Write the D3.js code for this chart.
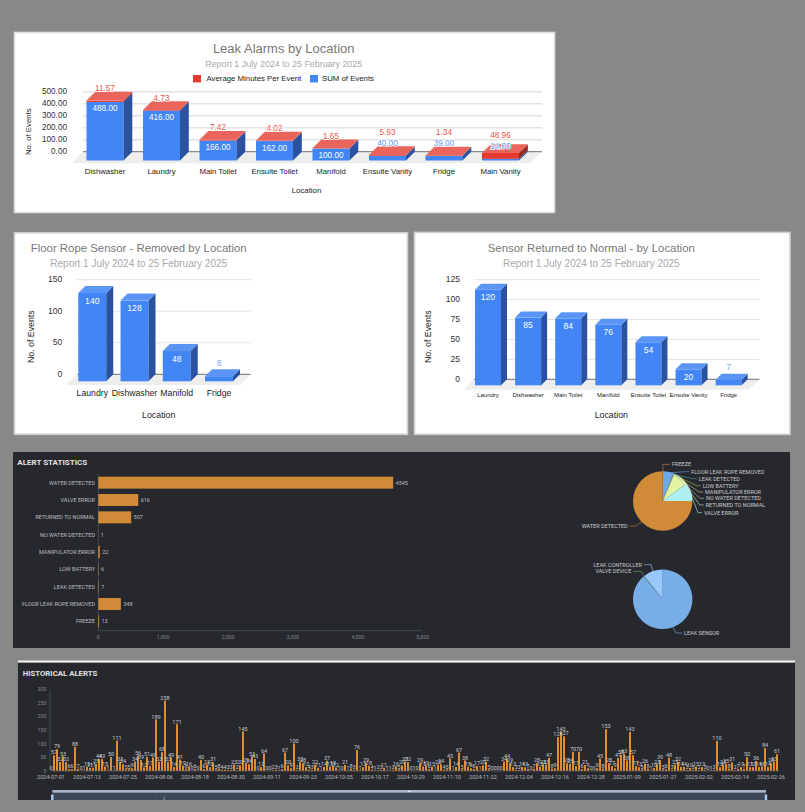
<!DOCTYPE html>
<html>
<head>
<meta charset="utf-8">
<script src="https://cdn.jsdelivr.net/npm/d3@7/dist/d3.min.js"></script>
<style>
  html, body { margin: 0; padding: 0; background: #888888; }
  svg { display: block; }
</style>
</head>
<body>
<svg id="board" width="805" height="812"></svg>
<script>
// ---- Leak alarms (stacked columns) ----
const leakLocations = ["Dishwasher", "Laundry", "Main Toilet", "Ensuite Toilet", "Manifold", "Ensuite Vanity", "Fridge", "Main Vanity"];
const leakEvents = [488, 416, 166, 162, 100, 40, 39, 14];
const leakMinutes = [11.57, 4.73, 7.42, 4.02, 1.65, 5.93, 1.34, 48.96];
const leakTicks = [0, 100, 200, 300, 400, 500];

// ---- Floor rope sensor removals ----
const ropeLocations = ["Laundry", "Dishwasher", "Manifold", "Fridge"];
const ropeEvents = [140, 128, 48, 8];
const ropeTicks = [0, 50, 100, 150];

// ---- Sensor returned to normal ----
const normalLocations = ["Laundry", "Dishwasher", "Main Toilet", "Manifold", "Ensuite Toilet", "Ensuite Vanity", "Fridge"];
const normalEvents = [120, 85, 84, 76, 54, 20, 7];
const normalTicks = [0, 25, 50, 75, 100, 125];

// ---- Alert statistics ----
const alertTypes = ["WATER DETECTED", "VALVE ERROR", "RETURNED TO NORMAL", "NO WATER DETECTED", "MANIPULATOR ERROR", "LOW BATTERY", "LEAK DETECTED", "FLOOR LEAK ROPE REMOVED", "FREEZE"];
const alertCounts = [4545, 616, 507, 1, 22, 6, 7, 348, 13];
const alertTicks = [0, 1000, 2000, 3000, 4000, 5000];
const deviceTypes = ["LEAK SENSOR", "VALVE DEVICE", "LEAK CONTROLLER"];
const deviceCounts = [5390, 30, 645];

// ---- Historical alerts, one value per day from 2024-07-01 ----
const dailyAlerts = [
  0, 57, 79, 32, 53, 32, 6, 6, 88, 7,
  0, 1, 15, 11, 11, 25, 44, 43, 15, 1,
  50, 1, 111, 33, 24, 5, 5, 9, 34, 56,
  39, 12, 51, 17, 49, 189, 33, 68, 258, 33,
  49, 14, 171, 41, 19, 8, 16, 0, 6, 0,
  40, 6, 23, 13, 31, 5, 8, 4, 4, 3,
  3, 23, 2, 20, 145, 29, 24, 53, 43, 0,
  13, 64, 0, 0, 2, 3, 1, 6, 67, 20,
  9, 100, 2, 33, 28, 13, 4, 3, 22, 11,
  1, 14, 37, 15, 18, 12, 1, 0, 21, 1,
  8, 3, 76, 1, 13, 29, 18, 4, 1, 2,
  3, 11, 1, 1, 3, 16, 5, 20, 33, 32,
  0, 1, 0, 29, 15, 19, 6, 15, 1, 23,
  24, 4, 5, 45, 1, 14, 67, 5, 38, 15,
  9, 6, 17, 1, 20, 32, 5, 0, 0, 0,
  0, 34, 44, 29, 13, 3, 3, 14, 13, 7,
  0, 7, 28, 15, 23, 23, 47, 8, 9, 124,
  143, 127, 28, 25, 70, 17, 70, 6, 21, 9,
  0, 0, 9, 45, 8, 153, 28, 17, 9, 47,
  58, 63, 38, 143, 57, 17, 13, 5, 26, 8,
  1, 10, 23, 39, 5, 6, 48, 3, 23, 32,
  14, 14, 3, 10, 3, 15, 2, 13, 3, 0,
  1, 3, 110, 13, 23, 25, 8, 31, 2, 7,
  13, 7, 50, 13, 13, 36, 14, 16, 84, 14,
  28, 33, 61
];
const dailyTicks = [0, 50, 100, 150, 200, 250, 300];
const dailyLabels = ["2024-07-01", "2024-07-13", "2024-07-25", "2024-08-06", "2024-08-18", "2024-08-30", "2024-09-11", "2024-09-23", "2024-10-05", "2024-10-17", "2024-10-29", "2024-11-10", "2024-11-22", "2024-12-04", "2024-12-16", "2024-12-28", "2025-01-09", "2025-01-21", "2025-02-02", "2025-02-14", "2025-02-26"];

const REPORT = "Report 1 July 2024 to 25 February 2025";
const SANS = "'Liberation Sans', Arial, sans-serif";
const ROBOTO = "Roboto, sans-serif";
const BLUE = { front: "#4285f4", side: "#2a52a0", top: "#5a95f6" };
const RED = { front: "#e53a30", side: "#9c2a1f", top: "#e9655c" };

const svg = d3.select("#board");

function label(parent, x, y, str, o = {}) {
  const t = parent.append("text")
    .attr("x", x).attr("y", y)
    .attr("dominant-baseline", "central")
    .attr("text-anchor", o.anchor || "middle")
    .attr("font-family", o.family || SANS)
    .attr("font-size", o.size || 8)
    .attr("font-weight", o.weight || 400)
    .attr("fill", o.fill || "#222")
    .text(str);
  if (o.halo) t.attr("stroke", "#fff").attr("stroke-width", 1.4).attr("paint-order", "stroke");
  if (o.rotate) t.attr("transform", `rotate(${o.rotate} ${x} ${y})`);
  return t;
}

function poly(parent, pts, fill) {
  return parent.append("polygon").attr("points", pts.map(p => p.join(",")).join(" ")).attr("fill", fill);
}

// One extruded box between two values on the column's own scale.
function box(parent, x, w, yBottom, yTop, depth, colours, withTop) {
  parent.append("rect").attr("x", x).attr("y", yTop).attr("width", w).attr("height", Math.max(0, yBottom - yTop)).attr("fill", colours.front);
  poly(parent, [[x + w, yTop], [x + w + depth, yTop - depth], [x + w + depth, yBottom - depth], [x + w, yBottom]], colours.side);
  if (withTop) poly(parent, [[x, yTop], [x + depth, yTop - depth], [x + w + depth, yTop - depth], [x + w, yTop]], colours.top);
}

// Background plane shared by the three column charts: grid, floor, zero line, axis text.
function plane(g, c) {
  const y = d3.scaleLinear().domain(c.domain).range([c.y0, c.yTop]);
  g.append("g").selectAll("line").data(c.ticks.filter(t => t > 0)).join("line")
    .attr("x1", c.backX[0]).attr("x2", c.backX[1])
    .attr("y1", y).attr("y2", y)
    .attr("stroke", "#e3e3e3").attr("stroke-width", c.gridWidth);
  poly(g, [[c.backX[0], c.y0], [c.backX[1], c.y0], [c.backX[1] - c.floor, c.y0 + c.floor], [c.backX[0] - c.floor, c.y0 + c.floor]], "#eeeeee");
  g.append("line").attr("x1", c.backX[0]).attr("x2", c.backX[1]).attr("y1", c.y0).attr("y2", c.y0).attr("stroke", "#6f6f6f").attr("stroke-width", 1);
  c.ticks.forEach(t => label(g, c.tickX, y(t) - 0.7, c.tickFormat(t), { anchor: "end", size: c.tickSize, fill: "#333" }));
  label(g, c.titleX, c.titleY, c.title, { size: c.titleSize, fill: "#787878" });
  label(g, c.titleX, c.titleY + 15.5, REPORT, { size: c.subSize, fill: "#a9a9a9" });
  label(g, c.axisTitleX, c.axisTitleY, "No. of Events", { size: c.axisSize, rotate: -90, fill: "#222" });
  label(g, c.locX, c.locY, "Location", { size: c.locSize, fill: "#222" });
  return y;
}

function panelCard(x, y, w, h, border) {
  svg.append("rect").attr("x", x).attr("y", y).attr("width", w).attr("height", h).attr("fill", "#fff").attr("stroke", border).attr("stroke-width", 1.6);
}

// ---------- Leak Alarms by Location ----------
panelCard(14.5, 32.5, 540, 180, "#dedede");
(function () {
  const g = svg.append("g");
  const depth = 8.8;
  const y = plane(g, {
    domain: [0, 500], y0: 151.7, yTop: 91.7, ticks: leakTicks, backX: [83, 542], floor: 11.6, gridWidth: 1.5,
    tickX: 67, tickSize: 8.2, tickFormat: d3.format(".2f"),
    title: "Leak Alarms by Location", titleX: 283.7, titleY: 48.3, titleSize: 13, subSize: 8.9,
    axisTitleX: 28.6, axisTitleY: 131.7, axisSize: 7.8, locX: 306.5, locY: 190, locSize: 7.8
  });
  const x = d3.scaleBand().domain(leakLocations).range([86.5, 519]).paddingInner(0.345).paddingOuter(0);
  const front = v => y(v) + depth;

  // legend
  g.append("rect").attr("x", 193).attr("y", 75).attr("width", 8).attr("height", 7.4).attr("fill", RED.front);
  label(g, 206.5, 78.3, "Average Minutes Per Event", { anchor: "start", size: 7.8 });
  g.append("rect").attr("x", 310).attr("y", 75).attr("width", 8).attr("height", 7.4).attr("fill", BLUE.front);
  label(g, 322, 78.3, "SUM of Events", { anchor: "start", size: 7.8 });

  leakLocations.forEach((name, i) => {
    const bx = x(name), w = x.bandwidth(), cx = bx + w / 2;
    const blue = leakEvents[i], total = blue + leakMinutes[i];
    box(g, bx, w, front(0), front(blue), depth, BLUE, false);
    box(g, bx, w, front(blue), front(total), depth, RED, true);
    label(g, cx, 171, name, { size: 7.8 });

    // short columns carry their count above the box, pushing the minutes label higher
    const inside = blue >= 60;
    const blueY = inside ? front(blue) + 7 : front(blue) - 12;
    const redDefault = front(total) - depth - 3;
    const redY = inside ? redDefault : Math.min(redDefault, blueY - 11);
    label(g, cx, blueY, d3.format(".2f")(blue), inside ? { size: 8.2, fill: "#fff" } : { size: 8.2, fill: "#5f9cf7", halo: true });
    label(g, cx, redY, d3.format(".2f")(leakMinutes[i]), { size: 8.2, fill: "#e8574d", halo: true });
  });
})();

// ---------- single-series column charts ----------
function columnChart(c) {
  panelCard(c.card[0], c.card[1], c.card[2], c.card[3], "#cfcfcf");
  const g = svg.append("g");
  const y = plane(g, c);
  const x = d3.scaleBand().domain(c.names).range(c.bandRange).paddingInner(c.inner).paddingOuter(0);
  c.names.forEach((name, i) => {
    const bx = x(name), w = x.bandwidth(), cx = bx + w / 2, v = c.values[i];
    const top = y(v) + c.depth, bottom = y(0) + c.depth;
    box(g, bx, w, bottom, top, c.depth, BLUE, true);
    label(g, cx, c.xLabelY, name, { size: c.xSize });
    if (v >= c.insideFrom) label(g, cx, top + 7.6, v, { size: c.valueSize, fill: "#fff", weight: 500 });
    else label(g, cx, top - c.depth - 6.5, v, { size: c.valueSize, fill: "#7baaf7" });
  });
}

columnChart({
  card: [14.5, 232.8, 393, 201.5], names: ropeLocations, values: ropeEvents,
  domain: [0, 150], y0: 374.3, yTop: 279.7, ticks: ropeTicks, backX: [77.3, 250.7], floor: 10.7, gridWidth: 1,
  tickX: 62.3, tickSize: 8.6, tickFormat: d3.format("d"),
  title: "Floor Rope Sensor - Removed by Location", titleX: 138.7, titleY: 248, titleSize: 11.4, subSize: 10,
  axisTitleX: 30.7, axisTitleY: 336.7, axisSize: 8.8, locX: 158.7, locY: 414.7, locSize: 8.8,
  bandRange: [78.3, 233], inner: 0.338, depth: 7, xLabelY: 393.3, xSize: 8.7, valueSize: 8.6, insideFrom: 20
});

columnChart({
  card: [414.5, 232.4, 375.5, 202], names: normalLocations, values: normalEvents,
  domain: [0, 125], y0: 379.3, yTop: 279.7, ticks: normalTicks, backX: [474, 759.3], floor: 10.4, gridWidth: 1,
  tickX: 460, tickSize: 8.6, tickFormat: d3.format("d"),
  title: "Sensor Returned to Normal - by Location", titleX: 591.3, titleY: 248, titleSize: 11.4, subSize: 10,
  axisTitleX: 427.7, axisTitleY: 336.7, axisSize: 8.8, locX: 611.3, locY: 414.7, locSize: 8.8,
  bandRange: [475, 741.7], inner: 0.352, depth: 6, xLabelY: 395.3, xSize: 6, valueSize: 8.6, insideFrom: 20
});

// ---------- Alert statistics ----------
const DARK = "#26282e", ORANGE = "#d08a38";
svg.append("rect").attr("x", 13).attr("y", 452).attr("width", 777).attr("height", 196).attr("fill", DARK);
(function () {
  const g = svg.append("g");
  label(g, 17.3, 462, "ALERT STATISTICS", { anchor: "start", family: ROBOTO, size: 8, weight: 700, fill: "#e2e2e2" });
  const x = d3.scaleLinear().domain([0, 5000]).range([98.3, 422.7]);
  const y = d3.scaleBand().domain(alertTypes).range([474, 630]).paddingInner(0.31).paddingOuter(0.155);
  g.append("line").attr("x1", 98.3).attr("x2", 98.3).attr("y1", 474).attr("y2", 630.7).attr("stroke", "#454850");
  g.append("line").attr("x1", 98.3).attr("x2", 422.7).attr("y1", 630.7).attr("y2", 630.7).attr("stroke", "#454850");
  alertTypes.forEach((name, i) => {
    const v = alertCounts[i], cy = y(name) + y.bandwidth() / 2;
    g.append("rect").attr("x", x(0)).attr("y", y(name)).attr("width", x(v) - x(0)).attr("height", y.bandwidth()).attr("fill", ORANGE);
    label(g, 95, cy, name, { anchor: "end", family: ROBOTO, size: 5.5, fill: "#bdbdbf" });
    label(g, x(v) + 2.4, cy, v, { anchor: "start", family: ROBOTO, size: 5.5, fill: "#bdbdbf" });
  });
  alertTicks.forEach(t => label(g, x(t), 636.5, d3.format(",")(t), { family: ROBOTO, size: 5.2, fill: "#85868a" }));

  function pie(cx, cy, r, names, counts, colours, callouts) {
    const arcs = d3.pie().sort(null)(counts);
    const arc = d3.arc().innerRadius(0).outerRadius(r);
    const pg = g.append("g").attr("transform", `translate(${cx},${cy})`);
    arcs.forEach((a, i) => pg.append("path").attr("d", arc(a)).attr("fill", colours[i]));
    arcs.forEach((a, i) => {
      const c = callouts[i];
      const mid = (a.startAngle + a.endAngle) / 2;
      const sx = cx + Math.sin(mid) * (r - 1), sy = cy - Math.cos(mid) * (r - 1);
      const dir = c.anchor === "end" ? 1 : -1;
      const elbowX = c.x + dir * (c.elbow || 6), endX = c.x + dir * 2;
      g.append("path").attr("d", `M${sx},${sy}L${c.vertical ? sx : elbowX},${c.y}L${endX},${c.y}`)
        .attr("fill", "none").attr("stroke", colours[i]).attr("stroke-width", 0.6);
      label(g, c.x, c.y, names[i], { anchor: c.anchor || "start", family: ROBOTO, size: 5.5, fill: "#c9c9cb" });
    });
  }

  // clockwise from twelve o'clock: the reverse of the bar order
  pie(662.7, 501, 29.7, alertTypes.slice().reverse(), alertCounts.slice().reverse(),
    ["#c98a3e", "#6fa8e8", "#4ea4a4", "#9ecf62", "#cfcf9a", "#b9c2c2", "#e2f5a5", "#aef0f2", "#d08a38"],
    [
      { x: 672, y: 464.3, vertical: true },
      { x: 691.3, y: 471.7 },
      { x: 698.7, y: 478.7 },
      { x: 702.7, y: 485.7 },
      { x: 705, y: 492 },
      { x: 706, y: 498.3 },
      { x: 705.7, y: 505 },
      { x: 704, y: 512.7 },
      { x: 627.7, y: 526, anchor: "end", elbow: 8 }
    ]);
  pie(662.7, 599.3, 29.7, deviceTypes, deviceCounts,
    ["#78aee8", "#6fb56f", "#97c9ff"],
    [
      { x: 684, y: 633, elbow: 8 },
      { x: 631.3, y: 571.3, anchor: "end", elbow: 10 },
      { x: 642, y: 564.7, anchor: "end", elbow: 9 }
    ]);
})();

// ---------- Historical alerts ----------
svg.append("rect").attr("x", 18).attr("y", 660.5).attr("width", 777).attr("height", 2.2).attr("fill", "#f4f4f4");
svg.append("rect").attr("x", 18).attr("y", 662.7).attr("width", 777).attr("height", 137.3).attr("fill", DARK);
(function () {
  const g = svg.append("g");
  label(g, 22.7, 673, "HISTORICAL ALERTS", { anchor: "start", family: ROBOTO, size: 7.8, weight: 700, fill: "#e2e2e2" });
  const days = d3.range(dailyAlerts.length);
  const y = d3.scaleLinear().domain([0, 300]).range([770.7, 689.3]);
  const x = d3.scaleBand().domain(days).range([49.5, 49.5 + 3 * days.length]).paddingInner(0.33).paddingOuter(0.165);

  g.append("line").attr("x1", 50).attr("x2", 50).attr("y1", 689.3).attr("y2", 770.7).attr("stroke", "#454850");
  g.append("line").attr("x1", 50).attr("x2", 49.5 + 3 * days.length).attr("y1", 770.9).attr("y2", 770.9).attr("stroke", "#54565e");
  dailyTicks.forEach(t => label(g, 46.3, y(t), t, { anchor: "end", family: ROBOTO, size: 5.2, fill: "#85868a" }));
  dailyLabels.forEach((d, i) => label(g, x(i * 12) + x.bandwidth() / 2, 776.8, d, { family: ROBOTO, size: 5.5, fill: "#b8b8ba" }));

  g.append("g").selectAll("rect").data(dailyAlerts).join("rect")
    .attr("x", (d, i) => x(i)).attr("width", x.bandwidth())
    .attr("y", d => y(d)).attr("height", d => y(0) - y(d))
    .attr("fill", "#dd8e32");
  g.append("g").selectAll("text").data(dailyAlerts).join("text")
    .attr("x", (d, i) => x(i) + x.bandwidth() / 2)
    .attr("y", d => y(d) - 2.8)
    .attr("dominant-baseline", "central").attr("text-anchor", "middle")
    .attr("font-family", ROBOTO).attr("font-size", 5.5).attr("fill", "#c9c9cb")
    .text(d => d);

  // zoom slider along the bottom edge, cut off by the panel
  const sx = d3.scaleLinear().domain([0, dailyAlerts.length - 1]).range([52.3, 766]);
  const sy = d3.scaleLinear().domain([0, 258]).range([808, 795]);
  g.append("clipPath").attr("id", "slider-clip").append("rect").attr("x", 18).attr("y", 786).attr("width", 777).attr("height", 14);
  const s = g.append("g").attr("clip-path", "url(#slider-clip)");
  s.append("rect").attr("x", 52.3).attr("y", 792.7).attr("width", 713.7).attr("height", 12).attr("fill", "#3b4757");
  s.append("path").datum(dailyAlerts)
    .attr("d", d3.area().x((d, i) => sx(i)).y0(808).y1(d => sy(d)))
    .attr("fill", "#5f6d82");
  s.append("rect").attr("x", 52.3).attr("y", 790).attr("width", 713.7).attr("height", 2.7).attr("fill", "#a9b5c9");
  s.append("rect").attr("x", 408).attr("y", 790.7).attr("width", 2.7).attr("height", 1.4).attr("fill", "#e2e8f2");
  [52.3, 766].forEach(hx => s.append("rect").attr("x", hx - 1.2).attr("y", 794.5).attr("width", 2.4).attr("height", 8).attr("fill", "#a8cbf7"));
})();
</script>
</body>
</html>
